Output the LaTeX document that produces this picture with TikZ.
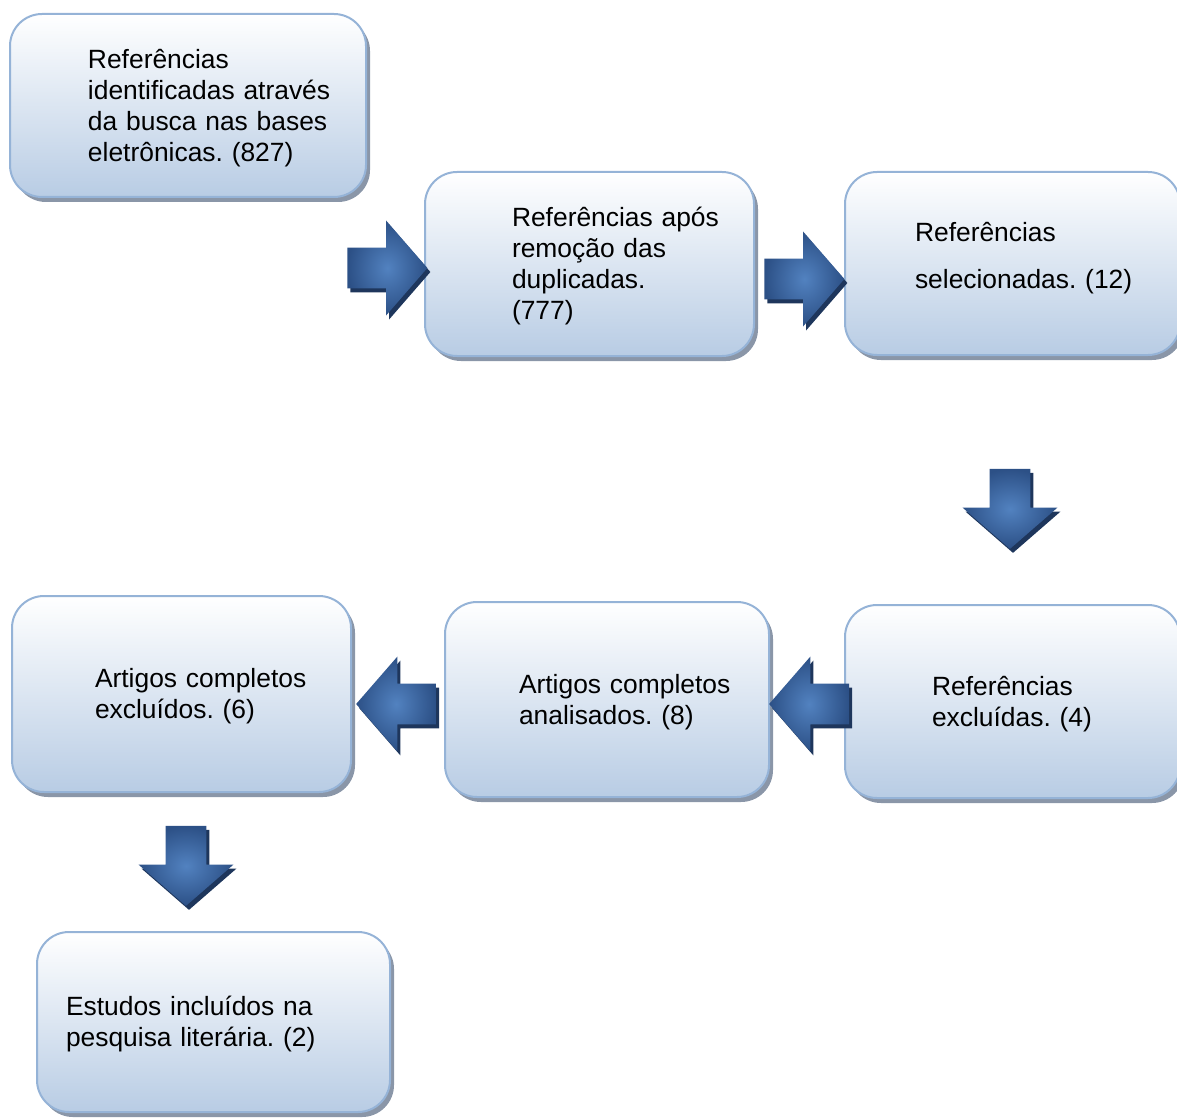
\documentclass[tikz,border=0pt]{standalone}
\usepackage{fontspec}
\setmainfont{Liberation Sans}
\frenchspacing
\usetikzlibrary{shapes.arrows,shadows}
\definecolor{boxline}{RGB}{149,179,215}
\definecolor{boxfill}{RGB}{184,204,228}
\definecolor{boxshadow}{RGB}{138,150,168}
\definecolor{arrowdark}{RGB}{44,80,134}
\definecolor{arrowlight}{RGB}{82,130,192}
\definecolor{arrowshadow}{RGB}{30,54,92}
\newcommand{\linha}{\rule[-0.2em]{0pt}{1.1em}}
\tikzset{caixa/.style={draw=boxline,line width=1pt,rounded corners=16pt,
    top color=white,bottom color=boxfill,inner sep=0pt,align=left,
    font=\fontsize{13.2}{15.5}\selectfont,
    drop shadow={shadow xshift=2pt,shadow yshift=-2.5pt,fill=boxshadow,opacity=1},
    execute at begin node={\leftskip=#1\linha},
    execute at end node={\linha}},
  tam/.style 2 args={minimum width=#1,text width=#1,minimum height=#2},
  seta/.style={single arrow,draw=none,inner sep=10pt,minimum height=40pt,
    single arrow head extend=13.5pt,single arrow tip angle=98,
    inner color=arrowlight,outer color=arrowdark,
    drop shadow={shadow xshift=1.5pt,shadow yshift=-2pt,fill=arrowshadow,opacity=1}}}

\begin{document}
\begin{tikzpicture}[x=0.5pt,y=-0.5pt]
\useasboundingbox (0,0) rectangle (1177,1118);
% caixas
\node[caixa=39pt,tam={178pt}{91.5pt}] (ident) at (188,105.5)
  {Referências\\identificadas através\\da busca nas bases\\eletrônicas. (827)};
\node[caixa=43.5pt,tam={164.5pt}{92pt}] (dupl) at (589.5,264)
  {Referências após\\remoção das\\duplicadas.\\(777)};
\node[caixa=35pt,tam={167.5pt}{91.5pt}] (selec) at (1012.5,263.5)
  {Referências\\[8pt]selecionadas. (12)\rule[-10.3pt]{0pt}{0pt}};
\node[caixa=43.5pt,tam={167.5pt}{96.5pt}] (refexcl) at (1012.5,701.5)
  {Referências\\excluídas. (4)};
\node[caixa=37pt,tam={162pt}{97.5pt}] (anal) at (607,699.5)
  {Artigos completos\\analisados. (8)};
\node[caixa=41.5pt,tam={169.5pt}{98pt}] (artexcl) at (181.5,694)
  {Artigos completos\\excluídos. (6)};
\node[caixa=14.5pt,tam={176.5pt}{90pt}] (incl) at (213.5,1022)
  {Estudos incluídos na\\pesquisa literária. (2)};
% setas
\node[seta] (s1) at (378.5,268) {};
\node[seta] (s2) at (795.5,279) {};
\node[seta,shape border rotate=270] (s3) at (1010,500) {};
\node[seta,shape border rotate=180] (s4) at (818,704) {};
\node[seta,shape border rotate=180] (s5) at (405,704) {};
\node[seta,shape border rotate=270] (s6) at (186,857) {};
\end{tikzpicture}
\end{document}
